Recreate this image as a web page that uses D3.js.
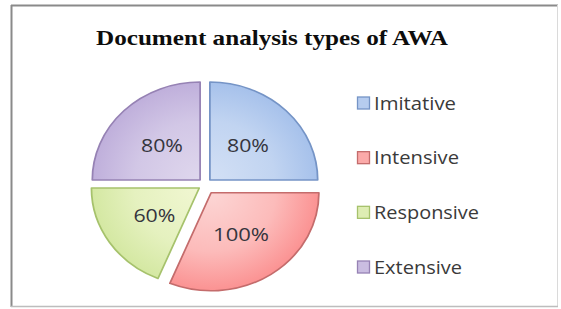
<!DOCTYPE html>
<html>
<head>
<meta charset="utf-8">
<script src="https://cdn.jsdelivr.net/npm/d3@7"></script>
<style>
  html, body { margin: 0; padding: 0; background: #fff; }
  svg { display: block; }
</style>
</head>
<body>
<div id="chart"></div>
<script>
// chart data
var categories = ["Imitative", "Intensive", "Responsive", "Extensive"];
var values = [80, 100, 60, 80];
var labels = ["80%", "100%", "60%", "80%"];

var W = 561, H = 309;
var svg = d3.select("#chart").append("svg")
    .attr("width", W)
    .attr("height", H);

// colours per slice: light centre, stronger edge, border
var fillIn = ["#d3e0f5", "#fcd6d5", "#f1f7d2", "#dfd7ed"];
var fillOut = ["#a6c1eb", "#fb9292", "#d4e8a2", "#bfafdb"];
var strokes = ["#7594c6", "#c46c6c", "#a6c26c", "#9682b4"];
// how far each slice is pulled out of the pie
var explodeBy = [6.3, 10, 6.3, 6.3];

// frame
svg.append("rect").attr("width", W).attr("height", H).attr("fill", "#fff");
svg.append("line").attr("x1", 11.5).attr("y1", 5).attr("x2", 11.5).attr("y2", 307)
    .attr("stroke", "#8a8a8a").attr("stroke-width", 2);
svg.append("line").attr("x1", 11).attr("y1", 5.5).attr("x2", 558).attr("y2", 5.5)
    .attr("stroke", "#8a8a8a").attr("stroke-width", 2);
svg.append("line").attr("x1", 557.5).attr("y1", 5).attr("x2", 557.5).attr("y2", 307)
    .attr("stroke", "#dadada").attr("stroke-width", 1);
svg.append("line").attr("x1", 11).attr("y1", 306.5).attr("x2", 558).attr("y2", 306.5)
    .attr("stroke", "#bdbdbd").attr("stroke-width", 1.5);

// title
svg.append("text")
    .attr("x", 96).attr("y", 45)
    .attr("textLength", 352).attr("lengthAdjust", "spacingAndGlyphs")
    .style("font-family", "'Liberation Serif', 'Times New Roman', serif")
    .style("font-weight", "bold")
    .style("font-size", "22px")
    .attr("fill", "#0d0d0d")
    .text("Document analysis types of AWA");

// pie
var cx = 205, cy = 184.5, R = 98, sx = 1.1;
var pie = d3.pie().sort(null).value(function(d){ return d; });
var arcs = pie(values);
var arc = d3.arc().innerRadius(0).outerRadius(R);

var defs = svg.append("defs");
arcs.forEach(function(a, i){
    var g = defs.append("radialGradient")
        .attr("id", "grad" + i)
        .attr("gradientUnits", "userSpaceOnUse")
        .attr("cx", 0).attr("cy", 0).attr("r", R);
    g.append("stop").attr("offset", "0").attr("stop-color", fillIn[i]);
    g.append("stop").attr("offset", "0.6").attr("stop-color", d3.interpolateRgb(fillIn[i], fillOut[i])(0.4));
    g.append("stop").attr("offset", "1").attr("stop-color", fillOut[i]);
});

function offset(a, i){
    var mid = (a.startAngle + a.endAngle) / 2;
    return [Math.sin(mid) * explodeBy[i], -Math.cos(mid) * explodeBy[i]];
}

var pieG = svg.append("g")
    .attr("transform", "translate(" + cx + "," + cy + ") scale(" + sx + ",1)");

pieG.selectAll("path")
    .data(arcs)
    .enter()
    .append("path")
    .attr("transform", function(d, i){ var o = offset(d, i); return "translate(" + o[0] + "," + o[1] + ")"; })
    .attr("d", arc)
    .attr("fill", function(d, i){ return "url(#grad" + i + ")"; })
    .attr("stroke", function(d, i){ return strokes[i]; })
    .attr("stroke-width", 1.6)
    .attr("stroke-linejoin", "round");

// data labels, placed half way out along each slice
var labelW = [42, 56, 42, 42];
svg.selectAll("text.lbl")
    .data(arcs)
    .enter()
    .append("text")
    .attr("class", "lbl")
    .attr("x", function(d, i){ var o = offset(d, i); return cx + (arc.centroid(d)[0] + o[0]) * sx - labelW[i] / 2; })
    .attr("y", function(d, i){ var o = offset(d, i); return cy + arc.centroid(d)[1] + o[1] + 7; })
    .attr("textLength", function(d, i){ return labelW[i]; })
    .attr("lengthAdjust", "spacingAndGlyphs")
    .style("font-family", "'Open Sans', sans-serif")
    .style("font-size", "19px")
    .attr("fill", "#35353d")
    .text(function(d, i){ return labels[i]; });

// legend
var legendY = d3.scalePoint().domain(categories).range([103, 267]);
var legendW = [82, 85, 105, 88];
var leg = svg.selectAll("g.leg")
    .data(categories)
    .enter()
    .append("g")
    .attr("class", "leg")
    .attr("transform", function(d){ return "translate(357," + legendY(d) + ")"; });

leg.append("rect")
    .attr("x", 0.5).attr("y", -6)
    .attr("width", 12).attr("height", 12)
    .attr("fill", function(d, i){ return d3.interpolateRgb(fillIn[i], fillOut[i])(0.65); })
    .attr("stroke", function(d, i){ return strokes[i]; })
    .attr("stroke-width", 1.3);

leg.append("text")
    .attr("x", 17).attr("y", 6.5)
    .attr("textLength", function(d, i){ return legendW[i]; })
    .attr("lengthAdjust", "spacingAndGlyphs")
    .style("font-family", "'Open Sans', sans-serif")
    .style("font-size", "18px")
    .attr("fill", "#3a3a3a")
    .text(function(d){ return d; });
</script>
</body>
</html>
